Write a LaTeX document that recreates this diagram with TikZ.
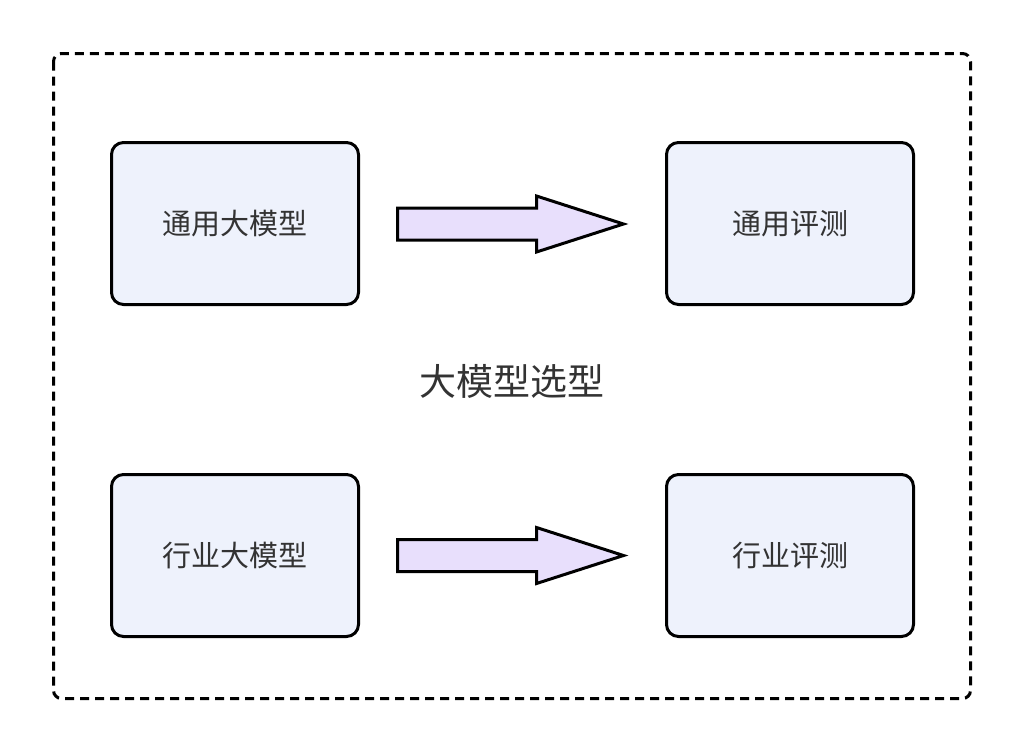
\documentclass[tikz,border=0pt]{standalone}
\usepackage{fontspec}
\setmainfont{Noto Sans CJK SC}
\definecolor{boxfill}{HTML}{EEF2FC}
\definecolor{arrowfill}{HTML}{E8DFFC}
\definecolor{textgray}{HTML}{333333}
\tikzset{
modelbox/.style={draw=black, line width=3pt, rounded corners=12pt, fill=boxfill,
  minimum width=247pt, minimum height=162pt, text=textgray,
  font=\fontsize{29}{29}\selectfont},
blockarrow/.pic={
  \draw[line width=3pt, fill=arrowfill] (0,-16) -- (139,-16) -- (139,-28) -- (226,0)
    -- (139,28) -- (139,16) -- (0,16) -- cycle;
  }
}

\begin{document}
\begin{tikzpicture}[x=1pt, y=-1pt]
  \useasboundingbox (0,0) rectangle (1024,753);
\draw[line width=3pt, dash pattern=on 9pt off 6pt, rounded corners=8pt] (53.5,53.5) rectangle (970.5,698.5);
\node[modelbox] (gm) at (235,223.5) {通用大模型};
\node[modelbox] (ge) at (790,223.5) {通用评测};
\node[modelbox] (im) at (235,555.5) {行业大模型};
\node[modelbox] (ie) at (790,555.5) {行业评测};
  \pic at (397.5,224) {blockarrow};
  \pic at (397.5,555.5) {blockarrow};
\node[text=textgray, font=\fontsize{37}{37}\selectfont] (title) at (512,381) {大模型选型};
\end{tikzpicture}
\end{document}
